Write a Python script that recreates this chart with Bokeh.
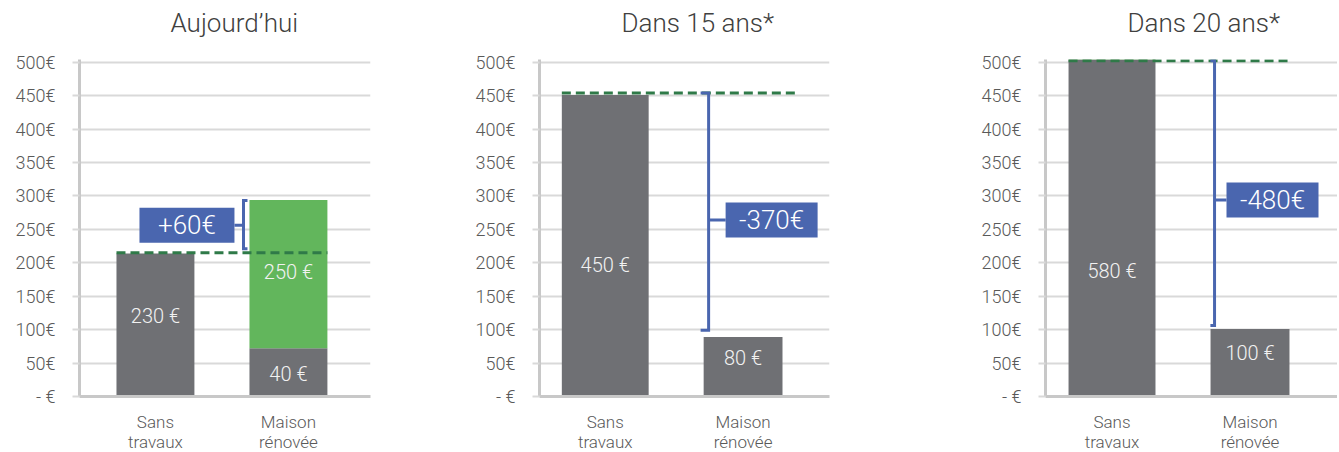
from bokeh.plotting import figure
from bokeh.layouts import row
from bokeh.models import FixedTicker, Range1d, Title
from bokeh.core.properties import value
from bokeh.embed import file_html
from bokeh.resources import INLINE

# ---------------- data ----------------
titles = ["Aujourd’hui", "Dans 15 ans*", "Dans 20 ans*"]
categories = ["Sans\ntravaux", "Maison\nrénovée"]
y_ticks = [0, 50, 100, 150, 200, 250, 300, 350, 400, 450, 500]
y_tick_labels = ["- €", "50€", "100€", "150€", "200€", "250€", "300€", "350€", "400€", "450€", "500€"]

grey_values = [[214, 72], [451, 89], [580, 101]]
green_values = [[0, 222], [0, 0], [0, 0]]
grey_labels = [["230 €", "40 €"], ["450 €", "80 €"], ["580 €", "100 €"]]
grey_label_y = [[121, 34], [196, 57], [188, 65]]
green_labels = [["", "250 €"], ["", ""], ["", ""]]
green_label_y = [[0, 186], [0, 0], [0, 0]]

reference_level = [215, 454, 502]
bracket_low = [221, 99, 106]
bracket_high = [293, 454, 502]
diff_labels = ["+60€", "-370€", "-480€"]
diff_label_y = [256, 264, 294]

# ---------------- layout / style ----------------
FONT = "Roboto Light"
GREY = "#6F7074"
GREEN = "#62B65C"
DASH = "#2F7A48"
BLUE = "#4A66AF"
GRID = "#D9D9D9"
AXIS = "#C8C8C8"
TXT = "#595959"

FRAME_H = 337
frame_w = [291, 290, 292]
x_start = [-0.571, -0.477, -0.482]
x_end = [1.617, 1.627, 1.634]
bar_w = [[0.586, 0.586], [0.630, 0.572], [0.630, 0.572]]
border_left = [79, 71, 71]
border_right = [98, 145, 0]
title_offset = [91, 82, 82]
bracket_x = [0.662, 0.75, 0.743]
serif_dx = [0.03, -0.058, -0.03]
box_x = [0.237, 1.207, 1.163]
box_w = [95, 92, 92]
box_h = 35
px_per_unit = [133, 138, 138]
dash_ext = [0.0, 0.116, 0.0]

figs = []
for i in range(3):
    p = figure(
        output_backend="svg", toolbar_location=None,
        frame_width=frame_w[i], frame_height=FRAME_H,
        min_border_left=border_left[i], min_border_right=border_right[i],
        min_border_top=59, min_border_bottom=56,
        x_range=Range1d(x_start[i], x_end[i]), y_range=Range1d(0, 504),
        outline_line_color=None, background_fill_color="white",
        border_fill_color="white",
    )
    # spacer between title and frame
    p.add_layout(Title(text=" ", text_font_size="1px", standoff=10), "above")
    # title
    p.title.text = titles[i]
    p.title.text_font = FONT
    p.title.text_font_size = "26px"
    p.title.text_font_style = "normal"
    p.title.text_color = "#404040"
    p.title.align = "left"
    p.title.offset = title_offset[i]
    p.title.vertical_align = "top"
    p.title.standoff = 14

    # axes
    yax = p.yaxis[0]
    yax.ticker = FixedTicker(ticks=y_ticks)
    yax.major_label_overrides = {t: l for t, l in zip(y_ticks, y_tick_labels)}
    yax.axis_line_color = AXIS
    yax.axis_line_width = 3
    yax.major_tick_line_color = GRID
    yax.major_tick_line_width = 2
    yax.major_tick_out = 7
    yax.major_tick_in = 0
    yax.minor_tick_line_color = None
    yax.major_label_text_font = FONT
    yax.major_label_text_font_size = "18px"
    yax.major_label_text_color = TXT
    yax.major_label_standoff = 17

    xax = p.xaxis[0]
    xax.ticker = FixedTicker(ticks=[0, 1])
    xax.major_label_overrides = {0: categories[0], 1: categories[1]}
    xax.axis_line_color = AXIS
    xax.axis_line_width = 3
    xax.major_tick_line_color = None
    xax.minor_tick_line_color = None
    xax.major_label_text_font = FONT
    xax.major_label_text_font_size = "17px"
    xax.major_label_text_line_height = 1.0
    xax.major_label_text_color = TXT
    xax.major_label_standoff = 9

    p.xgrid.grid_line_color = None
    p.ygrid.ticker = FixedTicker(ticks=y_ticks)
    p.ygrid.grid_line_color = GRID
    p.ygrid.grid_line_width = 2

    # bars
    xs = [0, 1]
    p.vbar(x=xs, width=bar_w[i], bottom=0, top=grey_values[i],
           fill_color=GREY, line_color=None)
    tops = [g + e for g, e in zip(grey_values[i], green_values[i])]
    p.vbar(x=xs, width=bar_w[i], bottom=grey_values[i], top=tops,
           fill_color=GREEN, line_color=None)

    # bar labels
    p.text(x=xs, y=grey_label_y[i], text=grey_labels[i], text_align="center",
           text_baseline="middle", text_color="#F2F2F2",
           text_font=value(FONT), text_font_size="20px")
    p.text(x=xs, y=green_label_y[i], text=green_labels[i], text_align="center",
           text_baseline="middle", text_color="#F2F2F2",
           text_font=value(FONT), text_font_size="20px")

    # dashed reference line
    x0 = 0 - bar_w[i][0] / 2
    x1 = 1 + bar_w[i][1] / 2 + dash_ext[i]
    p.line([x0, x1], [reference_level[i]] * 2, line_color=DASH,
           line_width=3, line_dash="9 5")

    # bracket
    bx = bracket_x[i]
    p.line([bx + serif_dx[i], bx, bx, bx + serif_dx[i]],
           [bracket_high[i], bracket_high[i], bracket_low[i], bracket_low[i]],
           line_color=BLUE, line_width=3, line_join="miter")
    half_box = box_w[i] / 2 / px_per_unit[i]
    edge = box_x[i] + half_box if box_x[i] < bx else box_x[i] - half_box
    p.line([bx, edge], [diff_label_y[i]] * 2, line_color=BLUE, line_width=3)

    # difference box
    p.rect(x=[box_x[i]], y=[diff_label_y[i]], width=box_w[i], height=box_h,
           width_units="screen", height_units="screen",
           fill_color=BLUE, line_color=None)
    p.text(x=[box_x[i]], y=[diff_label_y[i]], text=[diff_labels[i]],
           text_align="center", text_baseline="middle", text_color="white",
           text_font=value(FONT), text_font_size="26px")
    figs.append(p)

layout = row(*figs)
open("out.html", "w").write(file_html(layout, INLINE))
